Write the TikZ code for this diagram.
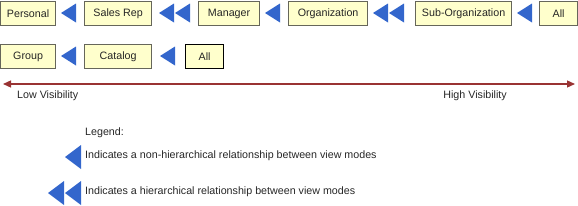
\documentclass[tikz,border=0pt]{standalone}
\usepackage{fontspec}
\setmainfont{Liberation Sans}
\usepackage{tikz}
\usetikzlibrary{arrows.meta, positioning, calc}
\definecolor{boxfill}{RGB}{255,255,204}
\definecolor{boxline}{RGB}{102,102,90}
\definecolor{tiblue}{RGB}{51,102,204}
\definecolor{axisred}{RGB}{153,51,51}

\begin{document}
\begin{tikzpicture}[
      x=1pt, y=-1pt,
      font=\fontsize{10.7}{12}\selectfont,
      modebox/.style = {
        rectangle, draw=boxline, line width=1.2pt, fill=boxfill,
        minimum height=24pt, inner sep=0pt, anchor=north west,
        text=black!85
      },
      lbl/.style  = {anchor=west, inner sep=0pt, text=black!85},
      axis/.style = {{Triangle[length=8pt,width=7pt]}-{Triangle[length=8pt,width=7pt]},
                     line width=1.3pt, color=axisred},
      tri/.pic    = {\fill[tiblue] (0,0) -- (15,-9.5) -- (15,9.5) -- cycle;},
      bigtri/.pic = {\fill[tiblue] (0,0) -- (16,-12) -- (16,12) -- cycle;}
    ]
      \useasboundingbox (0,0) rectangle (578,206);

      % ===================== First row =====================
      \node[modebox, minimum width=55pt] (personal) at (0,1)   {Personal};
      \node[modebox, minimum width=67pt] (salesrep) at (84,1)  {Sales Rep};
      \node[modebox, minimum width=61pt] (manager)  at (198,1) {Manager};
      \node[modebox, minimum width=79pt] (org)      at (288,1) {Organization};
      \node[modebox, minimum width=96pt] (suborg)   at (415,1) {Sub-Organization};
      \node[modebox, minimum width=38pt] (allone)   at (539,1) {All};

      % ===================== Second row =====================
      \node[modebox, minimum width=55pt] (group)    at (0,44)   {Group};
      \node[modebox, minimum width=67pt] (catalog)  at (84,44)  {Catalog};
      \node[modebox, minimum width=38pt, draw=black] (alltwo) at (185,44) {All};

      % ===================== Relationships =====================
      \pic at (61,13)  {tri};
      \pic at (159,13) {tri};
      \pic at (175,13) {tri};
      \pic at (265,13) {tri};
      \pic at (373,13) {tri};
      \pic at (389,13) {tri};
      \pic at (517,13) {tri};

      \pic at (61,56)  {tri};
      \pic at (160,56) {tri};

      % ===================== Visibility axis =====================
      \coordinate (lowend)  at (3,84);
      \coordinate (highend) at (575,84);
      \draw[axis] (lowend) -- (highend);
      \node[lbl] (low) at (17,96) {Low Visibility};
      \node[lbl, anchor=east] (high) at (507,96) {High Visibility};

      % ===================== Legend =====================
      \node[lbl] (legend) at (85,133) {Legend:};
      \pic at (65,157) {bigtri};
      \node[lbl] (single) at (85,156) {Indicates a non-hierarchical relationship between view modes};
      \pic at (48,193) {bigtri};
      \pic at (65,193) {bigtri};
      \node[lbl] (double) at (85,192) {Indicates a hierarchical relationship between view modes};

    \end{tikzpicture}
\end{document}
